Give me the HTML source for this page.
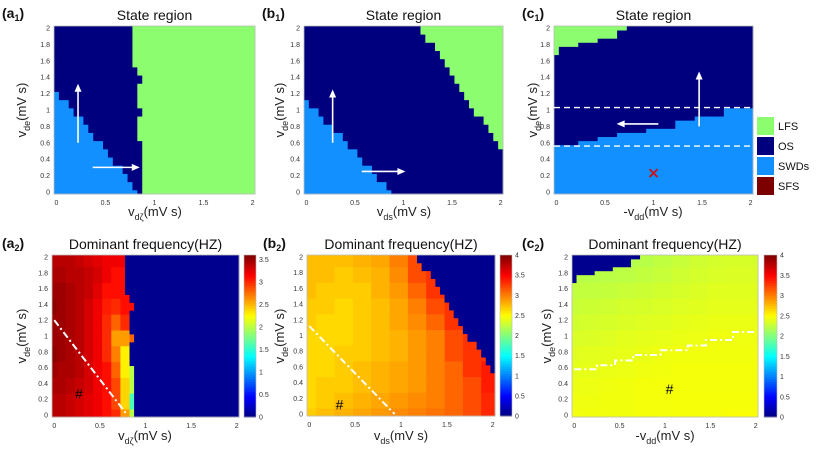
<!DOCTYPE html>
<html><head><meta charset="utf-8"><style>
html,body{margin:0;padding:0;background:#fff;}
svg{display:block;font-family:"Liberation Sans",sans-serif;}
</style></head><body>
<svg id="fig" width="817" height="460" viewBox="0 0 817 460" xmlns="http://www.w3.org/2000/svg"></svg>
<script>
// ---- data (state boundaries, per y row 0..2 step 0.1) ----
const rowY = [0,0.1,0.2,0.3,0.4,0.5,0.6,0.7,0.8,0.9,1.0,1.1,1.2,1.3,1.4,1.5,1.6,1.7,1.8,1.9,2.0];
// a1: SWD if x < swdA ; LFS if x > lfsA
const swdA = [0.83,0.77,0.72,0.66,0.6,0.54,0.47,0.4,0.33,0.27,0.2,0.12,0.05,-1,-1,-1,-1,-1,-1,-1,-1];
const lfsA = [0.88,0.88,0.88,0.88,0.88,0.88,0.88,0.82,0.82,0.82,0.88,0.82,0.82,0.82,0.86,0.82,0.76,0.76,0.76,0.76,0.76];
// b1
const swdB = [0.9,0.83,0.75,0.68,0.6,0.52,0.45,0.37,0.28,0.2,0.12,0.03,-1,-1,-1,-1,-1,-1,-1,-1,-1];
const lfsB = [3,3,3,3,3,3,1.97,1.92,1.86,1.8,1.74,1.7,1.64,1.58,1.52,1.48,1.42,1.36,1.3,1.24,1.18];
// c1 (per x column 0..2 step 0.1): SWD if y < swdC ; LFS if y > lfsC
const colX = rowY;
const swdC = [0.56,0.56,0.56,0.61,0.61,0.67,0.67,0.74,0.74,0.74,0.8,0.8,0.8,0.86,0.86,0.93,0.93,0.93,1.03,1.03,1.03];
const lfsC = [1.68,1.75,1.75,1.82,1.82,1.88,1.88,1.96,3,3,3,3,3,3,3,3,3,3,3,3,3];
// ---- frequency heatmaps ----
// a2: rows y=0..2 step 0.2, columns x=0..0.9 step 0.1
const freqA = [
[3.4,3.4,3.35,3.3,3.25,3.2,3.1,3.0,2.6,2.0],
[3.4,3.4,3.35,3.3,3.25,3.2,3.1,2.9,2.4,1.6],
[3.45,3.45,3.4,3.35,3.3,3.2,3.1,2.9,2.4,2.0],
[3.5,3.45,3.45,3.4,3.3,3.2,3.1,2.8,2.3,2.0],
[3.55,3.5,3.45,3.4,3.3,3.2,3.0,2.7,2.3,2.2],
[3.5,3.5,3.45,3.4,3.3,3.2,3.0,2.6,2.6,2.8],
[3.5,3.5,3.45,3.4,3.3,3.2,3.0,2.8,3.0,3.0],
[3.55,3.5,3.45,3.4,3.3,3.2,3.05,3.0,3.1,3.1],
[3.5,3.5,3.45,3.4,3.35,3.25,3.1,3.1,3.1,3.1],
[3.45,3.45,3.4,3.4,3.35,3.3,3.2,3.1,3.1,3.1],
[3.4,3.4,3.4,3.35,3.3,3.25,3.2,3.2,3.2,3.2]];
// b2: rows y=0..2 step 0.2, columns x=0..2 step 0.2
const freqB = [
[2.7,2.75,2.8,2.85,2.9,2.95,3.0,3.05,3.1,3.2,3.35],
[2.65,2.7,2.75,2.8,2.85,2.9,2.95,3.0,3.1,3.2,3.35],
[2.65,2.7,2.7,2.75,2.8,2.85,2.9,3.0,3.1,3.2,3.4],
[2.65,2.65,2.7,2.75,2.8,2.85,2.9,3.0,3.1,3.3,3.4],
[2.65,2.65,2.7,2.7,2.75,2.8,2.9,3.0,3.2,3.3,3.3],
[2.65,2.65,2.65,2.7,2.75,2.8,2.9,3.0,3.2,3.3,3.3],
[2.7,2.65,2.65,2.7,2.75,2.85,2.95,3.1,3.3,3.3,3.3],
[2.7,2.7,2.65,2.7,2.75,2.85,3.0,3.2,3.3,3.3,3.3],
[2.75,2.7,2.7,2.7,2.8,2.9,3.1,3.3,3.3,3.3,3.3],
[2.75,2.75,2.7,2.75,2.8,2.95,3.2,3.3,3.3,3.3,3.3],
[2.75,2.75,2.75,2.8,2.85,3.0,3.2,3.3,3.3,3.3,3.3]];
// c2
const freqC = [
[2.45,2.45,2.45,2.45,2.46,2.46,2.47,2.47,2.47,2.48,2.48],
[2.44,2.44,2.45,2.45,2.46,2.46,2.47,2.47,2.47,2.47,2.47],
[2.42,2.43,2.44,2.45,2.46,2.46,2.46,2.46,2.46,2.46,2.46],
[2.4,2.41,2.42,2.43,2.44,2.45,2.46,2.46,2.46,2.46,2.46],
[2.38,2.39,2.4,2.41,2.42,2.44,2.45,2.45,2.45,2.45,2.45],
[2.35,2.36,2.37,2.39,2.4,2.41,2.42,2.43,2.44,2.44,2.44],
[2.32,2.33,2.34,2.36,2.37,2.38,2.4,2.41,2.42,2.42,2.42],
[2.29,2.3,2.31,2.33,2.34,2.35,2.37,2.38,2.4,2.4,2.4],
[2.26,2.26,2.27,2.29,2.3,2.32,2.34,2.36,2.38,2.38,2.38],
[2.22,2.22,2.23,2.24,2.26,2.28,2.31,2.33,2.35,2.36,2.36],
[2.18,2.18,2.18,2.2,2.22,2.25,2.28,2.31,2.33,2.34,2.34]];
const yTicks = [0,0.2,0.4,0.6,0.8,1,1.2,1.4,1.6,1.8,2];
const xTicks = [0,0.5,1,1.5,2];
const cbTicksA = [0,0.5,1,1.5,2,2.5,3,3.5];
const cbTicksB = [0,0.5,1,1.5,2,2.5,3,3.5,4];

const NS="http://www.w3.org/2000/svg";
const svg=document.getElementById('fig');
function mk(tag,attrs,parent){const e=document.createElementNS(NS,tag);for(const k in attrs)e.setAttribute(k,attrs[k]);(parent||svg).appendChild(e);return e;}
const C={LFS:'#8cfd6f',OS:'#00007e',SWD:'#1290ff',SFS:'#7c0000'};
function jet(t){t=Math.max(0,Math.min(1,t));
 const r=Math.max(0,Math.min(1,1.5-Math.abs(4*t-3))),g=Math.max(0,Math.min(1,1.5-Math.abs(4*t-2))),b=Math.max(0,Math.min(1,1.5-Math.abs(4*t-1)));
 return `rgb(${Math.round(r*255)},${Math.round(g*255)},${Math.round(b*255)})`;}
function axes(R){return {x:v=>R[0]+(v+0.025)/2.05*R[2], y:v=>R[1]+R[3]-(v+0.025)/2.05*R[3]};}
function rowIdx(v){return Math.max(0,Math.min(20,Math.round(v*10)));}
function stateAt(p,x,y){
 if(p==='a'){const k=rowIdx(y);return x<swdA[k]?'SWD':(x>lfsA[k]?'LFS':'OS');}
 if(p==='b'){const k=rowIdx(y);return x<swdB[k]?'SWD':(x>lfsB[k]?'LFS':'OS');}
 const k=rowIdx(x);return y<swdC[k]?'SWD':(y>lfsC[k]?'LFS':'OS');}
function freqAt(p,x,y){
 const r=Math.max(0,Math.min(10,Math.round(y/0.2)));
 if(p==='a'){const c=Math.round(x/0.1);return c>9?freqA[r][9]:freqA[r][c];}
 const c=Math.max(0,Math.min(10,Math.round(x/0.2)));
 return p==='b'?freqB[r][c]:freqC[r][c];}
function frame(R,A,g){
 mk('rect',{x:R[0],y:R[1],width:R[2],height:R[3],fill:'none',stroke:'#bbb','stroke-width':0.8},g);
 yTicks.forEach(v=>{const t=mk('text',{x:R[0]-4,y:A.y(v)+2.5,'font-size':7,'text-anchor':'end',fill:'#333'},g);t.textContent=String(v);});
 xTicks.forEach(v=>{const t=mk('text',{x:A.x(v),y:R[1]+R[3]+11,'font-size':7,'text-anchor':'middle',fill:'#333'},g);t.textContent=String(v);});
}
function label(x,y,main,sub,tail,rot,g,name){
 const t=mk('text',{x:x,y:y,'font-size':13,'text-anchor':'middle',fill:'#222',transform:rot?`rotate(-90 ${x} ${y})`:''},g);
 
 
 const a=mk('tspan',{},t);a.textContent=main;
 const b=mk('tspan',{'font-size':9,dy:4},t);b.textContent=sub;
 const c=mk('tspan',{dy:-4},t);c.textContent=tail;
}
function plabel(x,y,l,s,name){
 const t=mk('text',{x:x,y:y,'font-size':14,'font-weight':'bold',fill:'#111'});
 
 
 const a=mk('tspan',{},t);a.textContent='('+l;const b=mk('tspan',{'font-size':9,dy:3},t);b.textContent=s;const c=mk('tspan',{dy:-3},t);c.textContent=')';
}
function title(R,txt,y,name){const t=mk('text',{x:R[0]+R[2]/2,y:y,'font-size':14,'text-anchor':'middle',fill:'#111'});t.textContent=txt;
 
 }
function arrow(A,x1,y1,x2,y2,g){
 const X1=A.x(x1),Y1=A.y(y1),X2=A.x(x2),Y2=A.y(y2);const ang=Math.atan2(Y2-Y1,X2-X1);
 const l=mk('line',{x1:X1,y1:Y1,x2:X2-6*Math.cos(ang),y2:Y2-6*Math.sin(ang),stroke:'#fff','stroke-width':1.6},g);
 
 
 const p=[[X2,Y2],[X2-8*Math.cos(ang)+3.5*Math.sin(ang),Y2-8*Math.sin(ang)-3.5*Math.cos(ang)],[X2-8*Math.cos(ang)-3.5*Math.sin(ang),Y2-8*Math.sin(ang)+3.5*Math.cos(ang)]];
 const h=mk('polygon',{points:p.map(q=>q.join(',')).join(' '),fill:'#fff'},g);
 
 
}
function stateChart(p,R,name){
 const g=mk('g',{});
 const A=axes(R);const cw=0.05;
 for(let i=0;i<=40;i++)for(let j=0;j<=40;j++){
  const x=i*cw,y=j*cw;const s=stateAt(p,x,y);
  const r=mk('rect',{x:A.x(x-cw/2),y:A.y(y+cw/2),width:A.x(x+cw/2)-A.x(x-cw/2)+0.4,height:A.y(y-cw/2)-A.y(y+cw/2)+0.4,fill:C[s]},g);
  
  
 }
 frame(R,A,g);return {g,A};
}
function freqChart(p,R,cb,vmax,ticks,name){
 const g=mk('g',{});
 const A=axes(R);const cw=0.05;
 for(let i=0;i<=40;i++)for(let j=0;j<=40;j++){
  const x=i*cw,y=j*cw;const s=stateAt(p,x,y);
  const v=(s==='LFS')?0:freqAt(p,x,y);
  const r=mk('rect',{x:A.x(x-cw/2),y:A.y(y+cw/2),width:A.x(x+cw/2)-A.x(x-cw/2)+0.4,height:A.y(y-cw/2)-A.y(y+cw/2)+0.4,fill:v===0?'#00008f':jet(v/vmax)},g);
  
  
 }
 frame(R,A,g);
 const cg=mk('g',{});
 const n=64;for(let k=0;k<n;k++){mk('rect',{x:cb[0],y:cb[1]+cb[3]*(1-(k+1)/n),width:cb[2],height:cb[3]/n+0.5,fill:jet((k+0.5)/n)},cg);}
 mk('rect',{x:cb[0],y:cb[1],width:cb[2],height:cb[3],fill:'none',stroke:'#bbb','stroke-width':0.6},cg);
 ticks.forEach(v=>{const yy=cb[1]+cb[3]*(1-v/vmax);const t=mk('text',{x:cb[0]+cb[2]+3,y:yy+2.5,'font-size':7,fill:'#333'},cg);t.textContent=String(v);});
 return {g,A};
}
// ---- top row ----
const Ra1=[54,26,201,168],Rb1=[304,26,199,168],Rc1=[554,26,199,168];
const a1=stateChart('a',Ra1,'state-chart-a1');
arrow(a1.A,0.22,0.6,0.22,1.32,a1.g);arrow(a1.A,0.37,0.3,0.85,0.3,a1.g);
const b1=stateChart('b',Rb1,'state-chart-b1');
arrow(b1.A,0.27,0.6,0.27,1.25,b1.g);arrow(b1.A,0.57,0.25,1.02,0.25,b1.g);
const c1=stateChart('c',Rc1,'state-chart-c1');
[1.03,0.56].forEach(v=>{const l=mk('line',{x1:Rc1[0],x2:Rc1[0]+Rc1[2],y1:c1.A.y(v),y2:c1.A.y(v),stroke:'#fff','stroke-width':1.4,'stroke-dasharray':'6,4'},c1.g);});
arrow(c1.A,1.47,0.8,1.47,1.47,c1.g);arrow(c1.A,1.05,0.83,0.62,0.83,c1.g);
{const X=c1.A.x(1),Y=c1.A.y(0.23);const cx=mk('path',{d:`M${X-4},${Y-4}L${X+4},${Y+4}M${X-4},${Y+4}L${X+4},${Y-4}`,stroke:'#d01010','stroke-width':1.8});}
// legend
const leg=[['LFS',C.LFS,117],['OS',C.OS,137],['SWDs',C.SWD,157],['SFS',C.SFS,177]];
leg.forEach(e=>{const g=mk('g',{});
 mk('rect',{x:757,y:e[2],width:17,height:18,fill:e[1]},g);const t=mk('text',{x:778,y:e[2]+13,'font-size':11,fill:'#111'},g);t.textContent=e[0];});
title(Ra1,'State region',20,'title-a1');title(Rb1,'State region',20,'title-b1');title(Rc1,'State region',20,'title-c1');
plabel(2,18,'a','1','panel-label-a1');plabel(262,18,'b','1','panel-label-b1');plabel(522,18,'c','1','panel-label-c1');
label(26,110,'v','de','(mV s)',true,svg,'y-axis-title-a1');label(284,110,'v','de','(mV s)',true,svg,'y-axis-title-b1');label(537,110,'v','de','(mV s)',true,svg,'y-axis-title-c1');
label(155,216,'v','dζ','(mV s)',false,svg,'x-axis-title-a1');label(404,216,'v','ds','(mV s)',false,svg,'x-axis-title-b1');label(653,216,'-v','dd','(mV s)',false,svg,'x-axis-title-c1');
// ---- bottom row ----
const Ra2=[52,255,187,162],Rb2=[307,255,188,161],Rc2=[572,255,186,162];
const a2=freqChart('a',Ra2,[244,255,12,162],3.6,cbTicksA,'freq-chart-a2');
const b2=freqChart('b',Rb2,[500,255,12,161],4,cbTicksB,'freq-chart-b2');
const c2=freqChart('c',Rc2,[764,255,13,162],4,cbTicksB,'freq-chart-c2');
function dd(A,pts,g){const l=mk('polyline',{points:pts.map(p=>A.x(p[0])+','+A.y(p[1])).join(' '),fill:'none',stroke:'#fff','stroke-width':2,'stroke-dasharray':'7,3,2,3'},g);}
dd(a2.A,[[0,1.2],[0.8,0]],a2.g);dd(b2.A,[[0,1.12],[0.93,0]],b2.g);
{const pts=[];colX.forEach((x,i)=>{pts.push([Math.max(0,x-0.05),swdC[i]+0.02]);pts.push([Math.min(2,x+0.05),swdC[i]+0.02]);});dd(c2.A,pts,c2.g);}
[[a2,0.27,0.27],[b2,0.33,0.12],[c2,1.05,0.33]].forEach(h=>{const t=mk('text',{x:h[0].A.x(h[1]),y:h[0].A.y(h[2])+5,'font-size':14,'text-anchor':'middle',fill:'#000'},h[0].g);t.textContent='#';});
title(Ra2,'Dominant frequency(HZ)',249,'title-a2');title(Rb2,'Dominant frequency(HZ)',249,'title-b2');title(Rc2,'Dominant frequency(HZ)',249,'title-c2');
plabel(2,248,'a','2','panel-label-a2');plabel(263,248,'b','2','panel-label-b2');plabel(522,248,'c','2','panel-label-c2');
label(26,336,'v','de','(mV s)',true,svg,'y-axis-title-a2');label(284,336,'v','de','(mV s)',true,svg,'y-axis-title-b2');label(551,336,'v','de','(mV s)',true,svg,'y-axis-title-c2');
label(145,440,'v','dζ','(mV s)',false,svg,'x-axis-title-a2');label(401,440,'v','ds','(mV s)',false,svg,'x-axis-title-b2');label(665,440,'-v','dd','(mV s)',false,svg,'x-axis-title-c2');
</script>
</body></html>
